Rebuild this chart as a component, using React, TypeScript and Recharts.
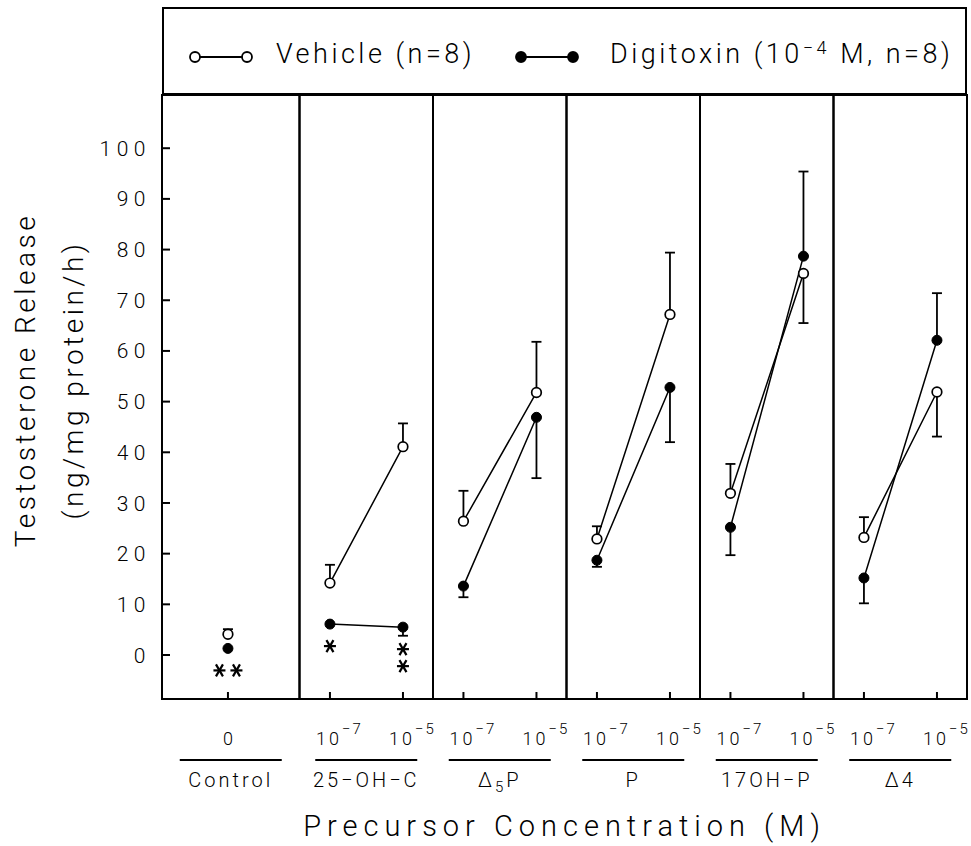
import React from "react";
import {
  ComposedChart,
  Line,
  XAxis,
  YAxis,
  ErrorBar,
  ReferenceArea,
  Legend,
  LabelList,
} from "recharts";

const FONT = "Roboto, 'Liberation Sans', Arial, sans-serif";

// panels of the figure (precursor used)
const panels = ["Control", "25−OH−C", "Δ5P", "P", "17OH−P", "Δ4"];

// one entry per measured point
const panelOf = [0, 1, 1, 2, 2, 3, 3, 4, 4, 5, 5];
const doses = ["0", "-7", "-5", "-7", "-5", "-7", "-5", "-7", "-5", "-7", "-5"];

const vehicle = [4.1, 14.2, 41.1, 26.4, 51.8, 22.9, 67.2, 31.9, 75.3, 23.2, 51.9];
// [down, up] error
const vehicleErr = [
  [0, 1.0], [0, 3.6], [0, 4.6], [0, 6.0], [0, 10.0], [0, 2.5],
  [0, 12.2], [0, 5.8], [9.8, 0], [0, 4.0], [8.8, 0],
];

const digitoxin = [1.3, 6.1, 5.5, 13.6, 46.9, 18.7, 52.8, 25.2, 78.7, 15.2, 62.1];
const digitoxinErr = [
  null, null, [1.7, 0], [2.2, 0], [12.0, 0], [1.3, 0],
  [10.8, 0], [5.5, 0], [0, 16.7], [5.0, 0], [0, 9.3],
];

// significance marks under the digitoxin points ("|" = new row)
const stars = ["**", "*", "*|*", "", "", "", "", "", "", "", ""];

const yTicks = [0, 10, 20, 30, 40, 50, 60, 70, 80, 90, 100];
const yDomain = [-8.68, 110.5];

// where a dose sits inside its panel (panel units)
const doseSpot: Record<string, number> = { "0": 0.464, "-7": 0.228, "-5": 0.775 };
const xMin = -0.03;

const rows: any[] = [];
doses.forEach((d, i) => {
  if (i > 0 && panelOf[i] !== panelOf[i - 1]) {
    rows.push({ x: panelOf[i], vehicle: null, digitoxin: null });
  }
  rows.push({
    x: panelOf[i] + doseSpot[d],
    dose: d,
    vehicle: vehicle[i],
    vehicleErr: vehicleErr[i],
    digitoxin: digitoxin[i],
    digitoxinErr: digitoxinErr[i],
    stars: stars[i],
  });
});
const xTicks = rows.filter((r) => r.dose !== undefined).map((r) => r.x);

const ValueTick = (props: any) => {
  const { x, y, payload } = props;
  return (
    <g>
      <line x1={x} x2={x + 8} y1={y} y2={y} stroke="#000" strokeWidth={2} />
      <text
        x={x - 11}
        y={y}
        dy="0.36em"
        textAnchor="end"
        fontFamily={FONT}
        fontWeight={300}
        fontSize={21}
        letterSpacing={5.5}
        fill="#000"
      >
        {payload.value}
      </text>
    </g>
  );
};

const DoseTick = (props: any) => {
  const { x, y, payload } = props;
  const row = rows.find((r) => r.dose !== undefined && Math.abs(r.x - payload.value) < 1e-6);
  const d = row ? row.dose : "";
  return (
    <g>
      <line x1={x} x2={x} y1={y} y2={y - 7} stroke="#000" strokeWidth={2} />
      {d === "0" ? (
        <text x={x} y={y + 46} textAnchor="middle" fontFamily={FONT} fontWeight={300} fontSize={18} fill="#000">
          0
        </text>
      ) : (
        <text x={x - 14} y={y + 46} fontFamily={FONT} fontWeight={300} fontSize={18} letterSpacing={3} fill="#000">
          10
          <tspan dy={-11} fontSize={15} letterSpacing={2}>
            {d.replace("-", "−")}
          </tspan>
        </text>
      )}
    </g>
  );
};

const PanelName = ({ name }: { name: string }) => {
  if (name === "Δ5P") {
    return (
      <>
        Δ<tspan dy={5} fontSize={15}>5</tspan>
        <tspan dy={-5}>P</tspan>
      </>
    );
  }
  return <>{name}</>;
};

const PanelLabel = (props: any) => {
  const vb = props.viewBox || {};
  const cx = vb.x + vb.width / 2;
  const base = vb.y + vb.height;
  return (
    <g>
      <line x1={cx - 51} x2={cx + 51} y1={base + 61} y2={base + 61} stroke="#000" strokeWidth={2} />
      <text
        x={cx}
        y={base + 88}
        textAnchor="middle"
        fontFamily={FONT}
        fontWeight={300}
        fontSize={20}
        letterSpacing={3}
        fill="#000"
      >
        <PanelName name={props.name} />
      </text>
    </g>
  );
};

const YTitle = (props: any) => {
  const vb = props.viewBox || { x: 82, y: 95, width: 80, height: 604 };
  const cy = vb.y + vb.height / 2 - 17;
  const x1 = vb.x - 57;
  const x2 = vb.x - 9;
  const common = {
    textAnchor: "middle" as const,
    dominantBaseline: "central" as const,
    fontFamily: FONT,
    fontWeight: 300,
    fontSize: 28,
    letterSpacing: 3.5,
    fill: "#000",
  };
  return (
    <g>
      <text x={x1} y={cy} transform={`rotate(-90, ${x1}, ${cy})`} {...common}>
        Testosterone Release
      </text>
      <text x={x2} y={cy} transform={`rotate(-90, ${x2}, ${cy})`} {...common}>
        (ng/mg protein/h)
      </text>
    </g>
  );
};

const XTitle = (props: any) => {
  const vb = props.viewBox || { x: 162, y: 699, width: 805, height: 40 };
  return (
    <text
      x={vb.x + vb.width / 2}
      y={vb.y + 137}
      textAnchor="middle"
      fontFamily={FONT}
      fontWeight={300}
      fontSize={29}
      letterSpacing={6}
      fill="#000"
    >
      Precursor Concentration (M)
    </text>
  );
};

const Stars = (props: any) => {
  const px = props.x ?? props.viewBox?.x;
  const py = props.y ?? props.viewBox?.y;
  const value = props.value;
  if (!value || px == null || py == null) return null;
  const lines = String(value).split("|");
  const out: React.ReactNode[] = [];
  lines.forEach((ln, r) => {
    const n = ln.length;
    for (let k = 0; k < n; k++) {
      const cx = px + (k - (n - 1) / 2) * 17;
      const cy = py + 22 + r * 17;
      out.push(
        <g key={`${r}-${k}`} stroke="#000" strokeWidth={2.2}>
          <line x1={cx - 6} x2={cx + 6} y1={cy} y2={cy} />
          <line x1={cx - 3.5} x2={cx + 3.5} y1={cy - 6} y2={cy + 6} />
          <line x1={cx + 3.5} x2={cx - 3.5} y1={cy - 6} y2={cy + 6} />
        </g>
      );
    }
  });
  return <g>{out}</g>;
};

const Marker = ({ filled }: { filled: boolean }) => (
  <svg width={68} height={16} style={{ position: "absolute", left: 0, top: 0 }}>
    <line x1={8} x2={60} y1={8} y2={8} stroke="#000" strokeWidth={1.8} />
    <circle cx={8} cy={8} r={5} fill={filled ? "#000" : "#fff"} stroke="#000" strokeWidth={1.8} />
    <circle cx={60} cy={8} r={5} fill={filled ? "#000" : "#fff"} stroke="#000" strokeWidth={1.8} />
  </svg>
);

const LegendBox = () => {
  const text: React.CSSProperties = {
    position: "absolute",
    top: 32,
    fontFamily: FONT,
    fontWeight: 300,
    fontSize: 27,
    lineHeight: "27px",
    letterSpacing: 3.5,
    whiteSpace: "nowrap",
    color: "#000",
  };
  return (
    <div
      style={{
        position: "relative",
        width: "100%",
        height: "100%",
        border: "2px solid #000",
        boxSizing: "border-box",
        background: "#fff",
      }}
    >
      <div style={{ position: "absolute", left: 23, top: 40 }}>
        <Marker filled={false} />
      </div>
      <span style={{ ...text, left: 112 }}>Vehicle (n=8)</span>
      <div style={{ position: "absolute", left: 349, top: 40 }}>
        <Marker filled />
      </div>
      <span style={{ ...text, left: 446 }}>
        Digitoxin (10
        <sup style={{ fontSize: 18, verticalAlign: "top", position: "relative", top: -7 }}>−4</sup> M, n=8)
      </span>
    </div>
  );
};

export default function App() {
  return (
    <div style={{ position: "absolute", left: 0, top: 0, width: 971, height: 846, background: "#fff" }}>
      <ComposedChart
        width={971}
        height={846}
        data={rows}
        margin={{ top: 95, right: 4, bottom: 107, left: 82 }}
      >
        <XAxis
          dataKey="x"
          type="number"
          domain={[xMin, panels.length]}
          ticks={xTicks}
          interval={0}
          allowDataOverflow
          axisLine={false}
          tickLine={false}
          tickSize={0}
          tickMargin={0}
          height={40}
          tick={<DoseTick />}
          label={<XTitle />}
        />
        <YAxis
          type="number"
          domain={yDomain}
          ticks={yTicks}
          interval={0}
          allowDataOverflow
          axisLine={false}
          tickLine={false}
          tickSize={0}
          tickMargin={0}
          width={80}
          tick={<ValueTick />}
          label={<YTitle />}
        />
        {panels.map((p, i) => (
          <ReferenceArea
            key={p}
            x1={i === 0 ? xMin : i}
            x2={i + 1}
            y1={yDomain[0]}
            y2={yDomain[1]}
            fill="none"
            fillOpacity={0}
            stroke="#000"
            strokeWidth={2}
            ifOverflow="visible"
            label={<PanelLabel name={p} />}
          />
        ))}
        <Legend
          layout="vertical"
          align="center"
          verticalAlign="middle"
          content={() => <LegendBox />}
          wrapperStyle={{ top: 7, left: 162, width: 805, height: 88 }}
        />
        <Line
          dataKey="digitoxin"
          stroke="#000"
          strokeWidth={1.5}
          dot={{ r: 5, fill: "#000", stroke: "#000", strokeWidth: 1 }}
          activeDot={false}
          isAnimationActive={false}
        >
          <ErrorBar dataKey="digitoxinErr" width={5} stroke="#000" strokeWidth={1.8} direction="y" />
          <LabelList dataKey="stars" content={<Stars />} />
        </Line>
        <Line
          dataKey="vehicle"
          stroke="#000"
          strokeWidth={1.5}
          dot={{ r: 4.8, fill: "#fff", stroke: "#000", strokeWidth: 1.7 }}
          activeDot={false}
          isAnimationActive={false}
        >
          <ErrorBar dataKey="vehicleErr" width={5} stroke="#000" strokeWidth={1.8} direction="y" />
        </Line>
      </ComposedChart>
    </div>
  );
}
